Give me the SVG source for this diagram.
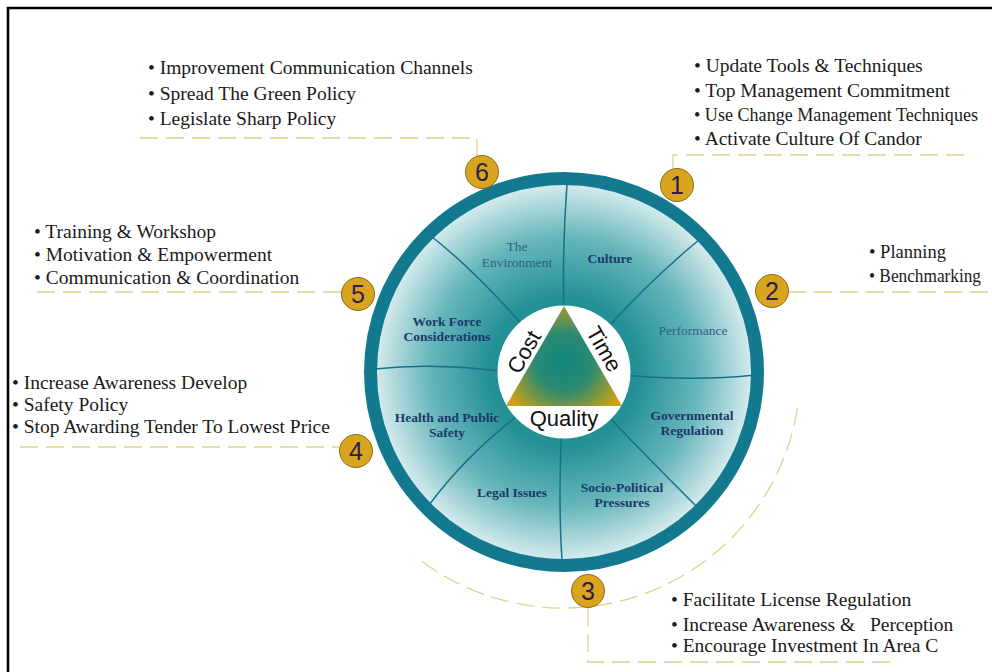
<svg xmlns="http://www.w3.org/2000/svg" width="992" height="672" viewBox="0 0 992 672">
  <defs>
    <radialGradient id="diskFill" gradientUnits="userSpaceOnUse" cx="564" cy="372" r="187">
      <stop offset="0" stop-color="#12848a"/>
      <stop offset="0.4" stop-color="#249197"/>
      <stop offset="0.72" stop-color="#66b6bb"/>
      <stop offset="1" stop-color="#d3eaec"/>
    </radialGradient>
    <radialGradient id="triFill" gradientUnits="userSpaceOnUse" cx="564" cy="362" r="64">
      <stop offset="0" stop-color="#12877f"/>
      <stop offset="0.45" stop-color="#2b8a72"/>
      <stop offset="1" stop-color="#cda214"/>
    </radialGradient>
    <style>
      .item { font-family: "Liberation Serif", "Times New Roman", serif; font-size: 19.5px; fill: #1a1a1a; white-space: pre; }
      .edge { font-size: 18.5px; }
      .seg { font-family: "Liberation Serif", "Times New Roman", serif; font-size: 13.5px; font-weight: bold; fill: #1c3868; text-anchor: middle; }
      .seg-light { font-family: "Liberation Serif", "Times New Roman", serif; font-size: 13.5px; fill: #2f6082; text-anchor: middle; }
      .tri { font-family: "Liberation Sans", Arial, sans-serif; font-size: 22px; fill: #111; text-anchor: middle; }
      .badge circle { fill: #d9a41e; stroke: #8a6a1a; stroke-width: 1; }
      .badge text { font-family: "Liberation Sans", Arial, sans-serif; font-size: 25px; fill: #2d1d4d; text-anchor: middle; }
      .dash { fill: none; stroke: #e3d18c; stroke-width: 1.3; stroke-dasharray: 18 8; }
      .divider { fill: none; stroke: #17708a; stroke-width: 1.5; }
    </style>
  </defs>

  <rect width="992" height="672" fill="#ffffff"/>
  <!-- frame -->
  <path d="M8 672 V8 H992" fill="none" stroke="#000" stroke-width="2.6"/>

  <!-- connectors -->
  <g id="connectors">
    <path class="dash" d="M140 138 H477 V156"/>
    <path class="dash" d="M673 168 V155 H968"/>
    <path class="dash" d="M788 292 H992"/>
    <path class="dash" d="M37 292 H342"/>
    <path class="dash" d="M20 447 H339"/>
    <path class="dash" d="M588 608 V662 H890"/>
    <path class="dash" d="M797.4 408 A237 237 0 0 1 415.6 556.4"/>
  </g>

  <!-- wheel -->
  <g id="wheel">
    <circle cx="564" cy="372" r="190" fill="url(#diskFill)"/>
    <g id="dividers">
      <path class="divider" d="M564 320 Q562 250 567 184"/>
      <path class="divider" d="M600 336 Q650 280 699 240"/>
      <path class="divider" d="M612 374 Q690 382 755 375"/>
      <path class="divider" d="M600 408 Q650 460 697 507"/>
      <path class="divider" d="M562 420 Q558 500 562 560"/>
      <path class="divider" d="M528 408 Q470 450 429 505"/>
      <path class="divider" d="M514 373 Q440 362 374 369"/>
      <path class="divider" d="M530 334 Q480 275 431 236"/>
    </g>
    <circle cx="564" cy="372" r="193.5" fill="none" stroke="#13798f" stroke-width="13"/>
    <circle cx="564" cy="372" r="66.5" fill="#ffffff"/>
    <polygon points="564,306 506,406 622,406" fill="url(#triFill)"/>
    <text class="tri" transform="translate(524 352) rotate(-60)" dy="7.5">Cost</text>
    <text class="tri" transform="translate(604 349) rotate(60)" dy="7.5">Time</text>
    <text class="tri" x="564" y="426">Quality</text>
  </g>

  <!-- segment labels -->
  <g id="seg-environment"><text class="seg-light" x="517" y="251">The</text><text class="seg-light" x="517" y="267">Environment</text></g>
  <g id="seg-culture"><text class="seg" x="610" y="263">Culture</text></g>
  <g id="seg-performance"><text class="seg-light" x="693" y="335">Performance</text></g>
  <g id="seg-governmental"><text class="seg" x="692" y="420">Governmental</text><text class="seg" x="692" y="435">Regulation</text></g>
  <g id="seg-sociopolitical"><text class="seg" x="622" y="492">Socio-Political</text><text class="seg" x="622" y="507">Pressures</text></g>
  <g id="seg-legal"><text class="seg" x="512" y="497">Legal Issues</text></g>
  <g id="seg-health"><text class="seg" x="447" y="422">Health and Public</text><text class="seg" x="447" y="437">Safety</text></g>
  <g id="seg-workforce"><text class="seg" x="447" y="326">Work Force</text><text class="seg" x="447" y="341">Considerations</text></g>

  <!-- numbered badges -->
  <g id="badge-1" class="badge"><circle cx="677" cy="185" r="16.5"/><text x="677" y="194">1</text></g>
  <g id="badge-2" class="badge"><circle cx="772" cy="291" r="16.5"/><text x="772" y="300">2</text></g>
  <g id="badge-3" class="badge"><circle cx="588" cy="591" r="16.5"/><text x="588" y="600">3</text></g>
  <g id="badge-4" class="badge"><circle cx="356" cy="451" r="16.5"/><text x="356" y="460">4</text></g>
  <g id="badge-5" class="badge"><circle cx="358" cy="294" r="16.5"/><text x="358" y="303">5</text></g>
  <g id="badge-6" class="badge"><circle cx="482" cy="172" r="16.5"/><text x="482" y="181">6</text></g>

  <!-- action lists -->
  <g id="list-1">
    <text class="item" x="694" y="72">• Update Tools &amp; Techniques</text>
    <text class="item" x="694" y="96.5">• Top Management Commitment</text>
    <text class="item edge" x="694" y="120.5" textLength="284" lengthAdjust="spacingAndGlyphs">• Use Change Management Techniques</text>
    <text class="item" x="694" y="144.5">• Activate Culture Of Candor</text>
  </g>
  <g id="list-2">
    <text class="item edge" x="869" y="282" dy="-24">• Planning</text>
    <text class="item edge" x="869" y="282" textLength="112" lengthAdjust="spacingAndGlyphs">• Benchmarking</text>
  </g>
  <g id="list-3">
    <text class="item" x="671" y="606">• Facilitate License Regulation</text>
    <text class="item" x="671" y="631">• Increase Awareness &amp;   Perception</text>
    <text class="item" x="671" y="652">• Encourage Investment In Area C</text>
  </g>
  <g id="list-4">
    <text class="item" x="12" y="389">• Increase Awareness Develop</text>
    <text class="item" x="12" y="411">• Safety Policy</text>
    <text class="item" x="12" y="433">• Stop Awarding Tender To Lowest Price</text>
  </g>
  <g id="list-5">
    <text class="item" x="34" y="238">• Training &amp; Workshop</text>
    <text class="item" x="34" y="261">• Motivation &amp; Empowerment</text>
    <text class="item" x="34" y="284">• Communication &amp; Coordination</text>
  </g>
  <g id="list-6">
    <text class="item" x="148" y="74">• Improvement Communication Channels</text>
    <text class="item" x="148" y="99.5">• Spread The Green Policy</text>
    <text class="item" x="148" y="125">• Legislate Sharp Policy</text>
  </g>
</svg>
